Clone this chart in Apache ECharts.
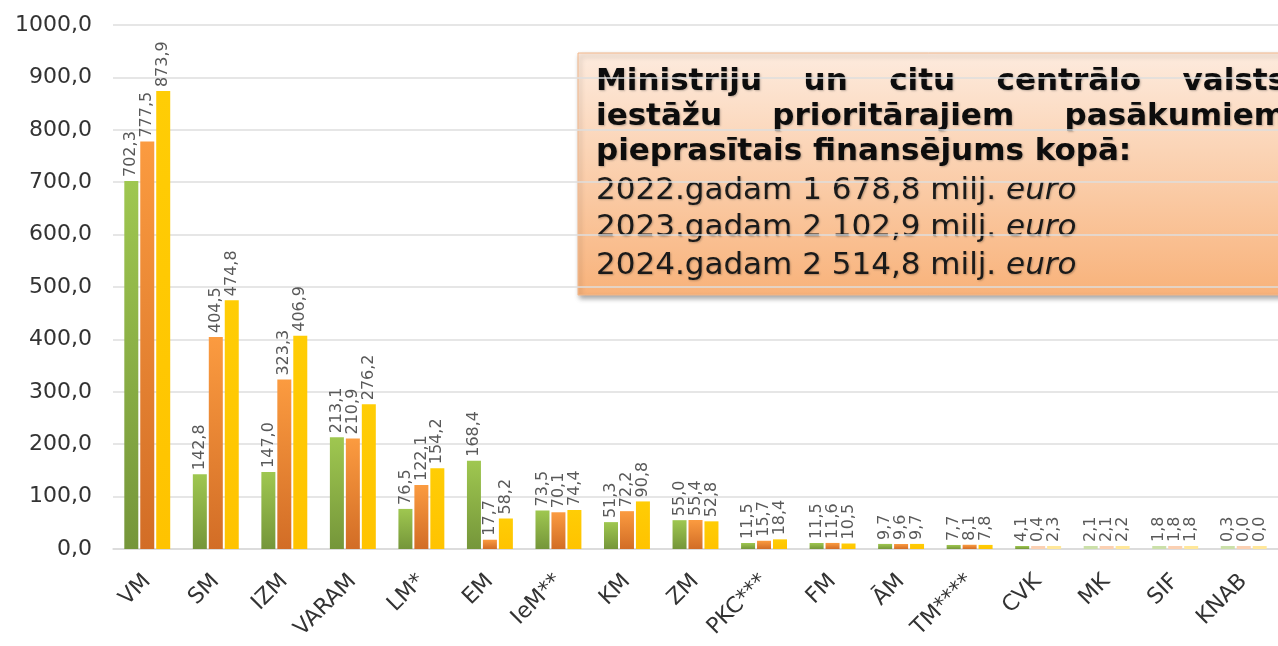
<!DOCTYPE html>
<html>
<head>
<meta charset="utf-8">
<script src="https://cdn.jsdelivr.net/npm/echarts@6/dist/echarts.min.js"></script>
<style>
  html, body { margin: 0; padding: 0; background: #fff; }
  #chart { width: 1278px; height: 646px; }
</style>
</head>
<body>
<div id="chart"></div>
<script>
// kategorijas (ministrijas un iestādes)
var categories = ['VM', 'SM', 'IZM', 'VARAM', 'LM*', 'EM', 'IeM**', 'KM', 'ZM', 'PKC***', 'FM', 'ĀM', 'TM****', 'CVK', 'MK', 'SIF', 'KNAB'];
// milj. euro
var values2022 = [702.3, 142.8, 147.0, 213.1, 76.5, 168.4, 73.5, 51.3, 55.0, 11.5, 11.5, 9.7, 7.7, 4.1, 2.1, 1.8, 0.3];
var values2023 = [777.5, 404.5, 323.3, 210.9, 122.1, 17.7, 70.1, 72.2, 55.4, 15.7, 11.6, 9.6, 8.1, 0.4, 2.1, 1.8, 0.0];
var values2024 = [873.9, 474.8, 406.9, 276.2, 154.2, 58.2, 74.4, 90.8, 52.8, 18.4, 10.5, 9.7, 7.8, 2.3, 2.2, 1.8, 0.0];
var seriesNames = ['2022', '2023', '2024'];

var boxBold = [
    ['Ministriju', 'un', 'citu', 'centrālo', 'valsts'],
    ['iestāžu', 'prioritārajiem', 'pasākumiem'],
    ['pieprasītais finansējums kopā:']
];
var boxLines = [
    ['2022.gadam 1 678,8 milj. ', 'euro'],
    ['2023.gadam 2 102,9 milj. ', 'euro'],
    ['2024.gadam 2 514,8 milj. ', 'euro']
];

var FONT = 'DejaVu Sans';
var chart = echarts.init(document.getElementById('chart'));

function grad(top, bottom) {
    return new echarts.graphic.LinearGradient(0, 0, 0, 1, [
        { offset: 0, color: top },
        { offset: 1, color: bottom }
    ]);
}
var solid = [grad('#9fc750', '#75963a'), grad('#fb9b40', '#d26d26'), grad('#ffcd05', '#ffc300')];
var pale = ['#cbe0a9', '#fbd0b2', '#ffe79a'];

function fmt(v) {
    return Number(v).toFixed(1).replace('.', ',');
}

var bars = [values2022, values2023, values2024].map(function (vals, i) {
    return {
        name: seriesNames[i],
        type: 'bar',
        data: vals,
        barWidth: 14,
        barGap: '14%',
        barMinHeight: 3,
        itemStyle: {
            color: function (p) {
                return p.value < 3 ? pale[i] : solid[i];
            }
        },
        label: {
            show: true,
            position: 'top',
            rotate: 90,
            align: 'left',
            verticalAlign: 'middle',
            distance: 4,
            fontFamily: FONT,
            fontSize: 16,
            color: '#595959',
            formatter: function (p) { return fmt(p.value); }
        }
    };
});

// teksta bloks ar izlīdzinātām rindām
var ctx = document.createElement('canvas').getContext('2d');
function justify(words, font, left, right) {
    ctx.font = font;
    var widths = words.map(function (w) { return ctx.measureText(w).width; });
    var sum = widths.reduce(function (a, b) { return a + b; }, 0);
    var gap = words.length > 1 ? (right - left - sum) / (words.length - 1) : 0;
    var xs = [], x = left;
    for (var i = 0; i < words.length; i++) {
        xs.push(x);
        x += widths[i] + gap;
    }
    return xs;
}

var boldSize = 31, regSize = 31;
var boldFont = 'bold ' + boldSize + 'px "' + FONT + '"';
var textLeft = 596, textRight = 1286;
var lineY = [82, 117, 152, 191, 228, 266];
var txtShadow = { textShadowColor: 'rgba(0,0,0,0.25)', textShadowBlur: 2, textShadowOffsetX: 1, textShadowOffsetY: 1 };
var boxChildren = [{
    type: 'rect',
    shape: { x: 578, y: 53, width: 740, height: 242 },
    style: {
        fill: grad('#fdebde', '#f8b27a'),
        stroke: '#f3b88c',
        lineWidth: 1,
        shadowBlur: 5,
        shadowOffsetX: 2,
        shadowOffsetY: 3,
        shadowColor: 'rgba(0,0,0,0.35)'
    }
}];
boxBold.forEach(function (words, li) {
    var xs = li < 2 ? justify(words, boldFont, textLeft, textRight) : [textLeft];
    words.forEach(function (w, wi) {
        boxChildren.push({
            type: 'text',
            x: xs[wi],
            y: lineY[li],
            style: Object.assign({
                text: w,
                fontFamily: FONT,
                fontWeight: 'bold',
                fontSize: boldSize,
                fill: '#0d0d0d',
                verticalAlign: 'middle'
            }, txtShadow)
        });
    });
});
boxLines.forEach(function (parts, li) {
    boxChildren.push({
        type: 'text',
        x: textLeft,
        y: lineY[3 + li],
        style: Object.assign({
            text: '{r|' + parts[0] + '}{i|' + parts[1] + '}',
            verticalAlign: 'middle',
            rich: {
                r: { fontFamily: FONT, fontSize: regSize, fill: '#1a1a1a' },
                i: { fontFamily: FONT, fontSize: regSize, fontStyle: 'italic', fill: '#1a1a1a' }
            }
        }, txtShadow)
    });
});

var option = {
    backgroundColor: '#fff',
    animation: false,
    grid: { left: 113, right: -15, top: 25, bottom: 97, containLabel: false },
    xAxis: {
        type: 'category',
        data: categories,
        axisLine: { lineStyle: { color: '#d9d9d9', width: 1.5 } },
        axisTick: { show: false },
        axisLabel: {
            rotate: 45,
            interval: 0,
            margin: 29,
            fontFamily: FONT,
            fontSize: 22,
            color: '#333'
        }
    },
    yAxis: {
        type: 'value',
        min: 0,
        max: 1000,
        interval: 100,
        axisLine: { show: false },
        axisTick: { show: false },
        splitLine: { lineStyle: { color: '#dedede', width: 1.5 } },
        axisLabel: {
            margin: 21,
            fontFamily: FONT,
            fontSize: 22,
            color: '#333',
            formatter: fmt
        }
    },
    series: bars,
    graphic: [{ type: 'group', children: boxChildren }]
};
chart.setOption(option);
</script>
</body>
</html>
